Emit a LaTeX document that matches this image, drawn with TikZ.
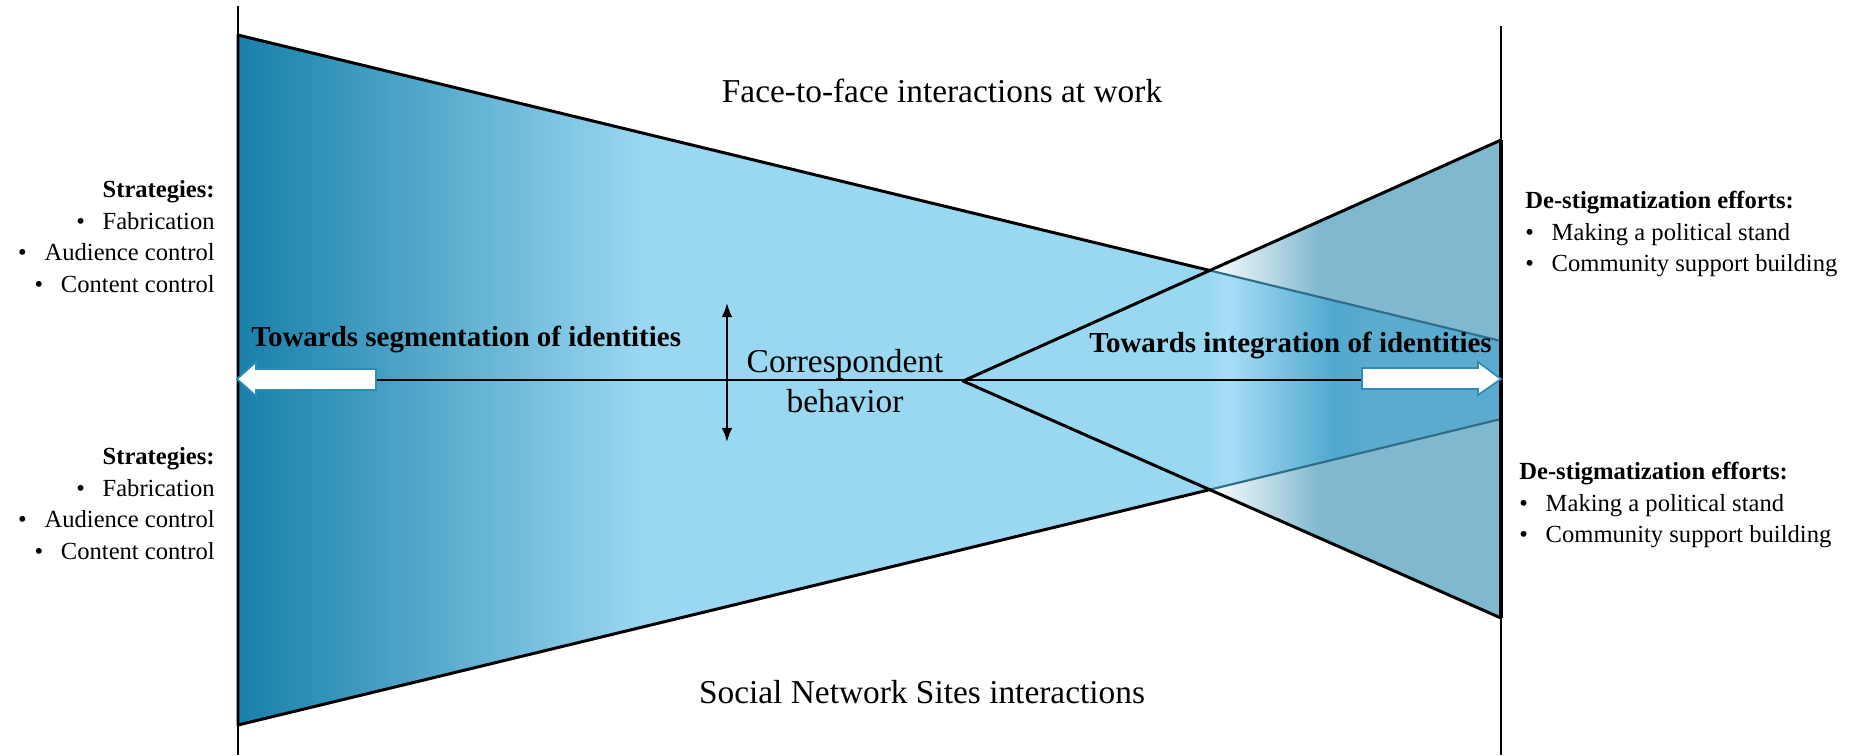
\documentclass[tikz,border=0pt]{standalone}
\usepackage{fontspec}
\setmainfont{Liberation Serif}
\usetikzlibrary{arrows.meta}

\definecolor{deepteal}{RGB}{24,128,170}
\definecolor{skyblue}{RGB}{154,216,241}
\definecolor{paleblue}{RGB}{168,221,245}
\definecolor{midblue}{RGB}{80,168,207}
\definecolor{mixblue}{RGB}{92,170,206}
\definecolor{greyblue}{RGB}{128,184,207}
\definecolor{edgeteal}{RGB}{46,108,138}
\definecolor{arrowteal}{RGB}{43,141,181}

\newcommand{\dotitem}[1]{\makebox[15pt][l]{\textbullet}#1}

\tikzset{
  outline/.style={line width=1.7pt, line join=round},
  blockarrow/.style={fill=white, draw=arrowteal, line width=1pt},
  caption/.style={font=\fontsize{19}{23}\selectfont, inner sep=0pt},
  direction/.style={font=\bfseries\fontsize{16.5}{20}\selectfont, inner sep=0pt},
  listing/.style={font=\fontsize{14}{18}\selectfont, inner sep=0pt},
}

\begin{document}
\begin{tikzpicture}[x=0.02cm, y=-0.02cm]
  \useasboundingbox (0,0) rectangle (1865,755);

  % corners of the two wedges
  \coordinate (wl1) at (238,35);
  \coordinate (wl2) at (238,725);
  \coordinate (wr1) at (1501,341);
  \coordinate (wr2) at (1501,419);
  \coordinate (apex) at (963,381);
  \coordinate (tr1) at (1501,140);
  \coordinate (tr2) at (1501,618);
  \coordinate (xup) at (1210,270.5);
  \coordinate (xdn) at (1210,489.6);

  % wide wedge, dark on the left
  \fill[skyblue] (wl1) -- (wr1) -- (wr2) -- (wl2) -- cycle;
  \begin{scope}
    \clip (wl1) -- (wr1) -- (wr2) -- (wl2) -- cycle;
    \shade[left color=deepteal, right color=skyblue] (238,0) rectangle (645,755);
  \end{scope}

  % overlap of both wedges
  \begin{scope}
    \clip (xup) -- (wr1) -- (wr2) -- (xdn) -- cycle;
    \fill[mixblue] (1200,200) rectangle (1501,560);
    \shade[left color=skyblue, right color=paleblue] (1209,200) rectangle (1228,560);
    \shade[left color=paleblue, right color=midblue] (1228,200) rectangle (1334,560);
    \shade[left color=midblue, right color=mixblue] (1334,200) rectangle (1366,560);
  \end{scope}

  % the parts of the right wedge outside the wide one
  \foreach \p/\q/\r in {xup/tr1/wr1, xdn/tr2/wr2} {
    \begin{scope}
      \clip (\p) -- (\q) -- (\r) -- cycle;
      \fill[greyblue] (1200,100) rectangle (1501,650);
      \shade[left color=white, right color=greyblue] (1209,100) rectangle (1320,650);
    \end{scope}
  }

  % outlines
  \draw[outline] (xup) -- (wl1) -- (wl2) -- (xdn);
  \draw[edgeteal, line width=1.2pt] (xup) -- (wr1);
  \draw[edgeteal, line width=1.2pt] (xdn) -- (wr2);
  \draw[outline] (tr1) -- (apex) -- (tr2);
  \draw[line width=2.6pt] (tr1) -- (tr2);

  % axes
  \draw[line width=1.6pt] (238,6) -- (238,755);
  \draw[line width=1.6pt] (1501,26) -- (1501,755);

  % middle line and the block arrows
  \coordinate (segtail) at (376,380);
  \coordinate (inttail) at (1362,380);
  \draw[line width=1.4pt] (segtail) -- (inttail);
  \draw[blockarrow] (376,369) -- (256,369) -- (256,362) -- (237,379)
    -- (256,396) -- (256,390) -- (376,390) -- cycle;
  \draw[blockarrow] (1362,368) -- (1478,368) -- (1478,362) -- (1501,379)
    -- (1478,395) -- (1478,389) -- (1362,389) -- cycle;

  % behaviour range
  \coordinate (cbtop) at (727,303);
  \coordinate (cbbot) at (727,442);
  \draw[line width=1pt, {Latex[length=8pt,width=6pt]}-{Latex[length=8pt,width=6pt]}] (cbtop) -- (cbbot);

  % labels
  \node[caption, anchor=base] (work) at (942,102) {Face-to-face interactions at work};
  \node[caption, anchor=base] (sns) at (922,703) {Social Network Sites interactions};
  \node[caption, align=center] (corr) at (845,381) {Correspondent\\behavior};
  \node[direction, anchor=base west] (seg) at (251,346) {Towards segmentation of identities};
  \node[direction, anchor=base west] (integ) at (1089,352) {Towards integration of identities};

  \node[listing, align=right, anchor=north east] (stratup) at (215,180)
    {\textbf{Strategies:}\\ \dotitem{Fabrication}\\ \dotitem{Audience control}\\ \dotitem{Content control}};
  \node[listing, align=right, anchor=north east] (stratdn) at (215,447)
    {\textbf{Strategies:}\\ \dotitem{Fabrication}\\ \dotitem{Audience control}\\ \dotitem{Content control}};
  \node[listing, align=left, anchor=north west] (effup) at (1525,191)
    {\textbf{De-stigmatization efforts:}\\ \dotitem{Making a political stand}\\ \dotitem{Community support building}};
  \node[listing, align=left, anchor=north west] (effdn) at (1519,462)
    {\textbf{De-stigmatization efforts:}\\ \dotitem{Making a political stand}\\ \dotitem{Community support building}};
\end{tikzpicture}
\end{document}
